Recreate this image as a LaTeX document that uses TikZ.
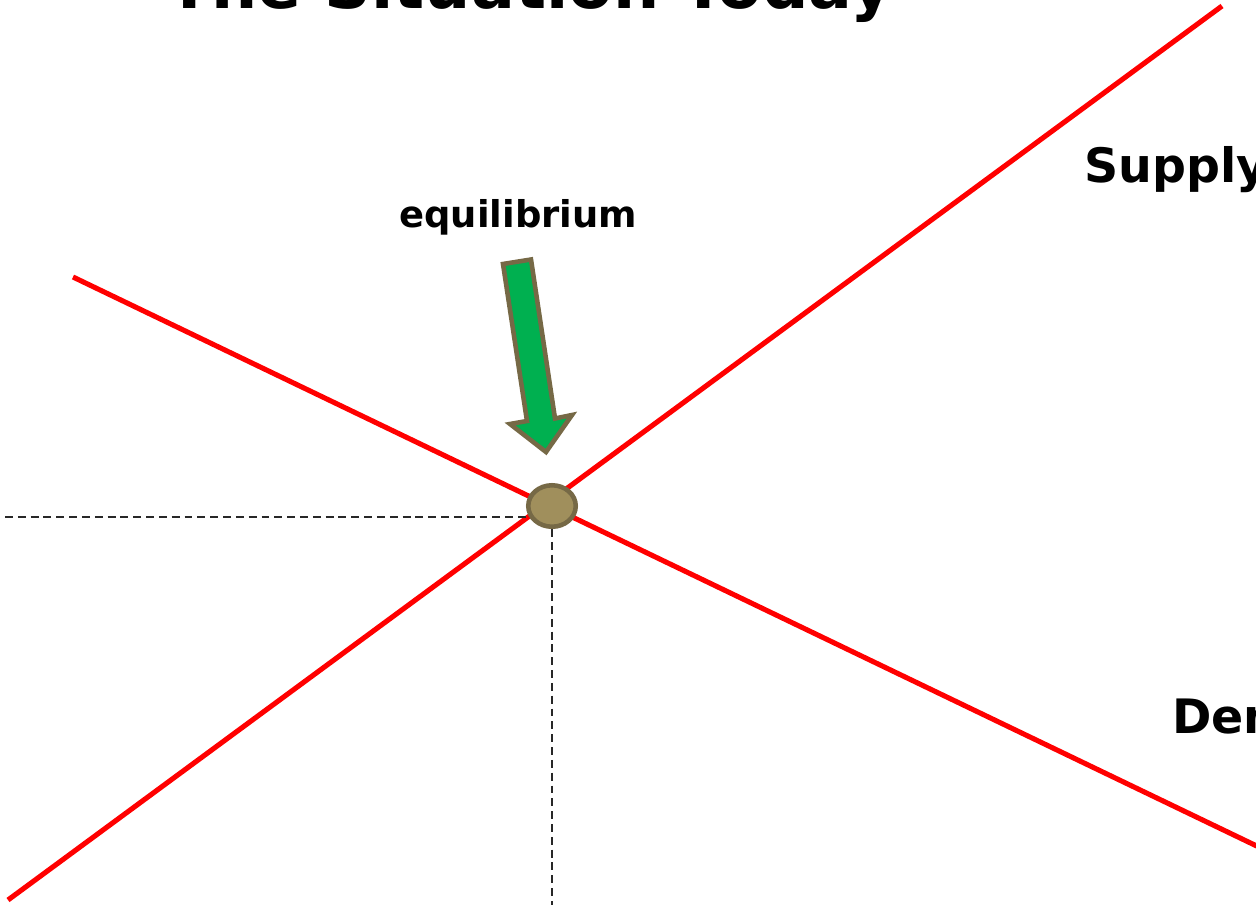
\documentclass[tikz,border=0pt]{standalone}
\usepackage{fontspec}
\setmainfont{DejaVu Sans}
\usepackage{xcolor}
\usepackage{tikz}
\usetikzlibrary{shapes.geometric, calc}
\definecolor{curvered}{RGB}{255, 0, 0}
\definecolor{arrowgreen}{RGB}{0, 176, 80}
\definecolor{olivedark}{RGB}{118, 105, 70}
\definecolor{olivefill}{RGB}{160, 143, 92}
\definecolor{guidegray}{RGB}{40, 40, 40}
\tikzset{
    curve/.style={curvered, line width=2.9pt},
    guide/.style={guidegray, line width=0.8pt, dash pattern=on 4.5pt off 2.8pt},
    label/.style={anchor=base west, inner sep=0pt, font=\bfseries}
}

\begin{document}
\begin{tikzpicture}[x=0.02cm, y=-0.02cm]
    \useasboundingbox (0,0) rectangle (1256,905);
    \clip (0,0) rectangle (1256,905);
    % supply and demand
    \coordinate (S1) at (8,900);
    \coordinate (S2) at (1222,6);
    \coordinate (D1) at (73,277);
    \coordinate (D2) at (1290,862);
    \draw[curve] (S1)--(S2);
    \draw[curve] (D1)--(D2);
    % guides to the axes
    \coordinate (P) at (5,517);
    \coordinate (Q) at (552,905);
    \draw[guide] (P)--(528,517);
    \draw[guide] (552,529)--(Q);
    \node[ellipse, draw=olivedark, fill=olivefill, line width=2.6pt,
          minimum width=0.95cm, minimum height=0.83cm, inner sep=0pt] (E) at (552,506) {};
    % arrow
    \coordinate (A1) at (503,264);
    \coordinate (A2) at (531,259.5);
    \coordinate (A3) at (555,418.5);
    \coordinate (A4) at (572,415);
    \coordinate (A5) at (546,452);
    \coordinate (A6) at (510,424);
    \coordinate (A7) at (527,421);
    \filldraw[fill=arrowgreen, draw=olivedark, line width=2.6pt, line join=miter]
        (A1)--(A2)--(A3)--(A4)--(A5)--(A6)--(A7)--cycle;
    % labels
    \node[label, font=\bfseries\fontsize{37}{42}\selectfont] (title) at (167,9) {The Situation Today};
    \node[label, font=\bfseries\fontsize{27}{32}\selectfont] (supply) at (1084,183) {Supply};
    \node[label, font=\bfseries\fontsize{27}{32}\selectfont] (demand) at (1172,733) {Demand};
    \node[label, font=\bfseries\fontsize{21}{25}\selectfont] (eq) at (399,228) {equilibrium};
\end{tikzpicture}
\end{document}
